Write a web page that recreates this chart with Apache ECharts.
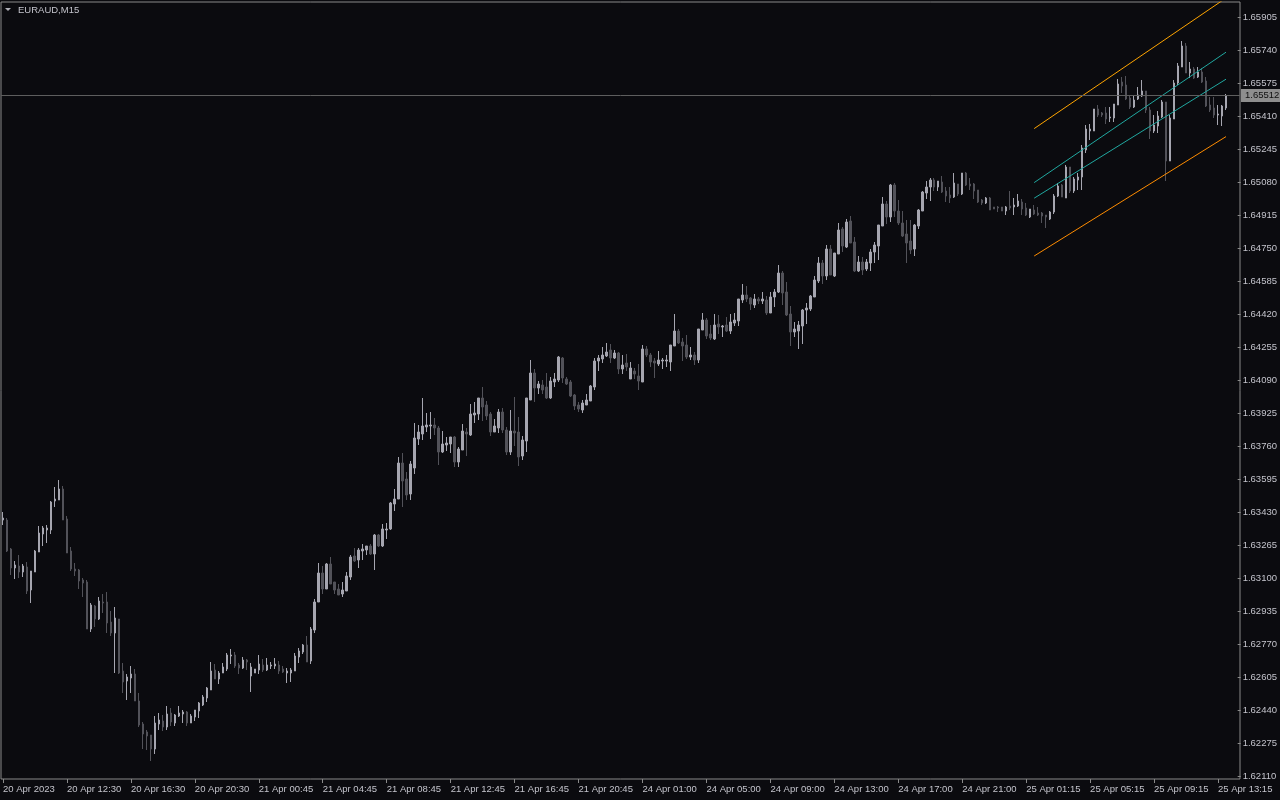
<!DOCTYPE html>
<html><head><meta charset="utf-8">
<script src="https://cdn.jsdelivr.net/npm/echarts@6/dist/echarts.min.js"></script>
<style>html,body{margin:0;padding:0;background:#0b0b0f;}#c{width:1280px;height:800px;}</style>
</head><body><div id="c"></div>
<script>
const symbolName = 'EURAUD,M15';
const open = [
1.63390,1.63390,1.63245,1.63150,1.63160,1.63130,1.63155,1.63040,1.63130,1.63230,
1.63320,1.63340,1.63340,1.63485,1.63490,1.63545,1.63395,1.63235,1.63145,1.63140,
1.63090,1.63080,1.62845,1.62960,1.62895,1.62980,1.62980,1.62880,1.62825,1.62895,
1.62635,1.62585,1.62600,1.62620,1.62485,1.62370,1.62330,1.62315,1.62245,1.62370,
1.62385,1.62355,1.62425,1.62375,1.62410,1.62420,1.62430,1.62375,1.62405,1.62435,
1.62465,1.62500,1.62540,1.62640,1.62595,1.62625,1.62645,1.62710,1.62715,1.62665,
1.62650,1.62690,1.62610,1.62625,1.62640,1.62665,1.62640,1.62660,1.62660,1.62665,
1.62645,1.62625,1.62625,1.62635,1.62705,1.62730,1.62765,1.62685,1.62840,1.62980,
1.63125,1.63045,1.63170,1.63080,1.63045,1.63020,1.63035,1.63105,1.63210,1.63190,
1.63235,1.63240,1.63260,1.63220,1.63315,1.63260,1.63340,1.63345,1.63470,1.63495,
1.63675,1.63595,1.63520,1.63650,1.63795,1.63820,1.63855,1.63860,1.63865,1.63850,
1.63730,1.63765,1.63770,1.63805,1.63680,1.63740,1.63830,1.63815,1.63915,1.63920,
1.64000,1.63965,1.63920,1.63830,1.63850,1.63930,1.63840,1.63730,1.63835,1.63830,
1.63710,1.63785,1.63990,1.64125,1.64050,1.64065,1.64055,1.64000,1.64080,1.64090,
1.64200,1.64095,1.64080,1.64015,1.63965,1.63940,1.63965,1.63985,1.64055,1.64185,
1.64195,1.64210,1.64240,1.64200,1.64225,1.64145,1.64175,1.64095,1.64135,1.64110,
1.64080,1.64245,1.64215,1.64185,1.64170,1.64185,1.64185,1.64180,1.64260,1.64335,
1.64280,1.64265,1.64205,1.64215,1.64190,1.64340,1.64390,1.64320,1.64295,1.64370,
1.64355,1.64365,1.64335,1.64375,1.64385,1.64490,1.64515,1.64500,1.64465,1.64495,
1.64485,1.64490,1.64425,1.64505,1.64530,1.64625,1.64530,1.64420,1.64330,1.64335,
1.64360,1.64440,1.64445,1.64505,1.64585,1.64675,1.64610,1.64745,1.64610,1.64720,
1.64845,1.64755,1.64885,1.64780,1.64635,1.64680,1.64645,1.64675,1.64730,1.64760,
1.64860,1.64970,1.64905,1.65065,1.64935,1.64875,1.64820,1.64785,1.64745,1.64860,
1.64935,1.65025,1.65055,1.65090,1.65055,1.65080,1.65035,1.65015,1.65005,1.65070,
1.65020,1.65125,1.65070,1.65070,1.65040,1.64990,1.64975,1.65000,1.64955,1.64955,
1.64955,1.64935,1.64960,1.64955,1.64960,1.64980,1.64950,1.64905,1.64940,1.64925,
1.64925,1.64915,1.64895,1.64930,1.65010,1.65065,1.65000,1.65155,1.65035,1.65090,
1.65105,1.65240,1.65335,1.65335,1.65445,1.65425,1.65425,1.65400,1.65400,1.65465,
1.65580,1.65565,1.65500,1.65455,1.65495,1.65510,1.65535,1.65440,1.65335,1.65360,
1.65405,1.65480,1.65185,1.65395,1.65575,1.65655,1.65760,1.65625,1.65645,1.65605,
1.65630,1.65585,1.65465,1.65450,1.65415,1.65410,1.65450];
const high = [
1.63430,1.63400,1.63250,1.63185,1.63215,1.63170,1.63180,1.63135,1.63240,1.63360,
1.63360,1.63365,1.63485,1.63555,1.63590,1.63560,1.63410,1.63255,1.63175,1.63145,
1.63100,1.63090,1.62975,1.62965,1.63005,1.63020,1.63030,1.62935,1.62955,1.62895,
1.62675,1.62620,1.62660,1.62645,1.62525,1.62380,1.62340,1.62315,1.62410,1.62425,
1.62415,1.62460,1.62450,1.62420,1.62460,1.62440,1.62435,1.62420,1.62440,1.62480,
1.62515,1.62555,1.62680,1.62670,1.62635,1.62675,1.62725,1.62745,1.62730,1.62675,
1.62705,1.62695,1.62675,1.62645,1.62715,1.62695,1.62700,1.62680,1.62700,1.62685,
1.62660,1.62650,1.62650,1.62725,1.62750,1.62770,1.62810,1.62855,1.62995,1.63175,
1.63160,1.63175,1.63205,1.63080,1.63070,1.63080,1.63130,1.63215,1.63250,1.63250,
1.63270,1.63260,1.63270,1.63320,1.63320,1.63370,1.63375,1.63480,1.63545,1.63705,
1.63725,1.63630,1.63685,1.63875,1.63865,1.64000,1.63925,1.63930,1.63900,1.63860,
1.63835,1.63805,1.63805,1.63810,1.63755,1.63870,1.63850,1.63970,1.63980,1.64000,
1.64055,1.63985,1.63930,1.63895,1.63945,1.63950,1.63855,1.63940,1.64005,1.63905,
1.63810,1.64000,1.64190,1.64145,1.64085,1.64090,1.64125,1.64105,1.64125,1.64210,
1.64205,1.64105,1.64090,1.64020,1.63980,1.63990,1.64020,1.64065,1.64200,1.64215,
1.64255,1.64275,1.64270,1.64240,1.64230,1.64215,1.64220,1.64180,1.64150,1.64170,
1.64265,1.64260,1.64225,1.64200,1.64235,1.64200,1.64215,1.64265,1.64420,1.64345,
1.64300,1.64315,1.64255,1.64230,1.64345,1.64425,1.64400,1.64365,1.64420,1.64415,
1.64365,1.64405,1.64420,1.64425,1.64495,1.64570,1.64560,1.64505,1.64520,1.64505,
1.64530,1.64510,1.64530,1.64545,1.64665,1.64635,1.64580,1.64460,1.64380,1.64385,
1.64445,1.64475,1.64515,1.64610,1.64705,1.64690,1.64765,1.64765,1.64725,1.64875,
1.64855,1.64895,1.64910,1.64805,1.64710,1.64705,1.64695,1.64745,1.64780,1.64865,
1.65005,1.64985,1.65070,1.65075,1.64990,1.64935,1.64890,1.64890,1.64870,1.64945,
1.65035,1.65085,1.65100,1.65100,1.65085,1.65110,1.65055,1.65055,1.65125,1.65070,
1.65125,1.65130,1.65100,1.65075,1.65040,1.64995,1.65005,1.65005,1.64955,1.64960,
1.64955,1.64960,1.65035,1.65000,1.65020,1.64995,1.64975,1.64945,1.64965,1.64955,
1.64930,1.64915,1.64935,1.65020,1.65075,1.65070,1.65165,1.65155,1.65105,1.65125,
1.65265,1.65365,1.65370,1.65445,1.65465,1.65430,1.65455,1.65455,1.65470,1.65595,
1.65605,1.65610,1.65515,1.65515,1.65555,1.65590,1.65535,1.65455,1.65415,1.65435,
1.65490,1.65480,1.65415,1.65590,1.65675,1.65785,1.65775,1.65680,1.65655,1.65655,
1.65650,1.65605,1.65505,1.65505,1.65465,1.65465,1.65520];
const low = [
1.63365,1.63230,1.63115,1.63095,1.63100,1.63105,1.63020,1.62975,1.63130,1.63230,
1.63260,1.63275,1.63320,1.63455,1.63490,1.63390,1.63225,1.63135,1.63110,1.63045,
1.63005,1.62845,1.62830,1.62855,1.62890,1.62925,1.62825,1.62810,1.62625,1.62620,
1.62525,1.62490,1.62525,1.62485,1.62355,1.62245,1.62240,1.62185,1.62220,1.62340,
1.62335,1.62340,1.62360,1.62360,1.62405,1.62375,1.62360,1.62375,1.62385,1.62400,
1.62460,1.62480,1.62540,1.62595,1.62570,1.62625,1.62635,1.62670,1.62650,1.62620,
1.62645,1.62640,1.62530,1.62625,1.62620,1.62630,1.62635,1.62645,1.62645,1.62620,
1.62625,1.62575,1.62580,1.62635,1.62675,1.62720,1.62680,1.62670,1.62825,1.62980,
1.63020,1.63045,1.63070,1.63020,1.63015,1.63005,1.63035,1.63090,1.63180,1.63150,
1.63190,1.63215,1.63215,1.63140,1.63255,1.63255,1.63295,1.63340,1.63435,1.63495,
1.63455,1.63490,1.63490,1.63620,1.63765,1.63790,1.63830,1.63795,1.63815,1.63665,
1.63725,1.63735,1.63725,1.63655,1.63655,1.63740,1.63710,1.63810,1.63875,1.63890,
1.63885,1.63890,1.63810,1.63830,1.63825,1.63825,1.63715,1.63715,1.63760,1.63660,
1.63690,1.63730,1.63990,1.63980,1.64020,1.64020,1.63995,1.63995,1.64055,1.64080,
1.64075,1.64065,1.64005,1.63940,1.63930,1.63925,1.63965,1.63985,1.64040,1.64135,
1.64175,1.64205,1.64175,1.64195,1.64120,1.64120,1.64135,1.64095,1.64095,1.64040,
1.64080,1.64205,1.64155,1.64100,1.64160,1.64145,1.64155,1.64135,1.64260,1.64270,
1.64185,1.64195,1.64190,1.64165,1.64175,1.64340,1.64295,1.64290,1.64290,1.64320,
1.64305,1.64330,1.64320,1.64360,1.64360,1.64475,1.64480,1.64440,1.64450,1.64470,
1.64470,1.64415,1.64425,1.64455,1.64525,1.64465,1.64410,1.64260,1.64305,1.64245,
1.64270,1.64370,1.64435,1.64505,1.64575,1.64570,1.64590,1.64615,1.64605,1.64720,
1.64730,1.64750,1.64775,1.64630,1.64630,1.64615,1.64635,1.64635,1.64675,1.64690,
1.64860,1.64870,1.64880,1.64905,1.64865,1.64805,1.64675,1.64720,1.64710,1.64845,
1.64935,1.64995,1.64985,1.65035,1.65035,1.65025,1.64980,1.64975,1.65000,1.65010,
1.65015,1.65060,1.65040,1.64995,1.64975,1.64965,1.64970,1.64940,1.64945,1.64930,
1.64935,1.64915,1.64940,1.64915,1.64955,1.64915,1.64910,1.64900,1.64915,1.64910,
1.64875,1.64850,1.64890,1.64920,1.65005,1.65005,1.65000,1.65025,1.65025,1.65040,
1.65040,1.65225,1.65290,1.65335,1.65405,1.65405,1.65370,1.65380,1.65380,1.65465,
1.65525,1.65490,1.65445,1.65450,1.65490,1.65505,1.65425,1.65295,1.65325,1.65325,
1.65400,1.65085,1.65185,1.65395,1.65565,1.65655,1.65625,1.65600,1.65595,1.65600,
1.65575,1.65455,1.65430,1.65400,1.65365,1.65360,1.65440];
const close = [
1.63400,1.63235,1.63150,1.63165,1.63130,1.63160,1.63035,1.63135,1.63235,1.63325,
1.63350,1.63350,1.63480,1.63495,1.63545,1.63390,1.63225,1.63145,1.63135,1.63085,
1.63075,1.62845,1.62965,1.62895,1.62985,1.62975,1.62875,1.62825,1.62900,1.62625,
1.62580,1.62605,1.62620,1.62485,1.62365,1.62320,1.62310,1.62245,1.62375,1.62390,
1.62355,1.62420,1.62380,1.62415,1.62425,1.62430,1.62375,1.62410,1.62440,1.62475,
1.62505,1.62550,1.62635,1.62595,1.62625,1.62655,1.62715,1.62715,1.62660,1.62650,
1.62690,1.62680,1.62655,1.62645,1.62670,1.62640,1.62665,1.62665,1.62670,1.62635,
1.62630,1.62635,1.62640,1.62710,1.62735,1.62765,1.62680,1.62845,1.62980,1.63125,
1.63045,1.63170,1.63070,1.63040,1.63015,1.63040,1.63110,1.63205,1.63185,1.63240,
1.63245,1.63260,1.63220,1.63315,1.63260,1.63345,1.63345,1.63475,1.63495,1.63675,
1.63585,1.63515,1.63670,1.63800,1.63830,1.63860,1.63865,1.63865,1.63850,1.63730,
1.63770,1.63775,1.63805,1.63680,1.63745,1.63835,1.63820,1.63920,1.63925,1.64000,
1.63955,1.63910,1.63830,1.63860,1.63930,1.63840,1.63730,1.63835,1.63825,1.63705,
1.63790,1.64000,1.64125,1.64050,1.64070,1.64040,1.64000,1.64085,1.64095,1.64205,
1.64100,1.64070,1.64010,1.63960,1.63945,1.63975,1.63990,1.64060,1.64185,1.64200,
1.64215,1.64230,1.64200,1.64225,1.64145,1.64165,1.64155,1.64150,1.64120,1.64085,
1.64245,1.64215,1.64180,1.64175,1.64190,1.64190,1.64190,1.64265,1.64335,1.64275,
1.64260,1.64205,1.64215,1.64190,1.64345,1.64390,1.64310,1.64300,1.64365,1.64355,
1.64360,1.64335,1.64380,1.64390,1.64495,1.64515,1.64495,1.64470,1.64495,1.64485,
1.64495,1.64425,1.64505,1.64530,1.64625,1.64525,1.64415,1.64330,1.64345,1.64365,
1.64440,1.64450,1.64510,1.64590,1.64675,1.64610,1.64745,1.64615,1.64725,1.64840,
1.64760,1.64880,1.64775,1.64635,1.64680,1.64640,1.64680,1.64730,1.64765,1.64865,
1.64970,1.64905,1.65065,1.64935,1.64875,1.64810,1.64775,1.64740,1.64865,1.64940,
1.65030,1.65055,1.65090,1.65055,1.65085,1.65030,1.65010,1.65000,1.65075,1.65020,
1.65125,1.65065,1.65060,1.65035,1.64980,1.64975,1.65000,1.64940,1.64945,1.64950,
1.64935,1.64955,1.64950,1.64965,1.64985,1.64945,1.64915,1.64945,1.64920,1.64915,
1.64910,1.64905,1.64930,1.65010,1.65060,1.65005,1.65155,1.65035,1.65095,1.65105,
1.65250,1.65345,1.65345,1.65445,1.65415,1.65415,1.65395,1.65405,1.65470,1.65570,
1.65560,1.65495,1.65455,1.65490,1.65515,1.65535,1.65440,1.65335,1.65365,1.65410,
1.65480,1.65185,1.65400,1.65575,1.65660,1.65760,1.65625,1.65645,1.65600,1.65630,
1.65580,1.65460,1.65440,1.65415,1.65420,1.65460,1.65512];
const timeLabels = ['20 Apr 2023','20 Apr 12:30','20 Apr 16:30','20 Apr 20:30','21 Apr 00:45','21 Apr 04:45','21 Apr 08:45','21 Apr 12:45','21 Apr 16:45','21 Apr 20:45','24 Apr 01:00','24 Apr 05:00','24 Apr 09:00','24 Apr 13:00','24 Apr 17:00','24 Apr 21:00','25 Apr 01:15','25 Apr 05:15','25 Apr 09:15','25 Apr 13:15'];
const priceLabels = ['1.62110','1.62275','1.62440','1.62605','1.62770','1.62935','1.63100','1.63265','1.63430','1.63595','1.63760','1.63925','1.64090','1.64255','1.64420','1.64585','1.64750','1.64915','1.65080','1.65245','1.65410','1.65575','1.65740','1.65905'];
const channelBars = [258, 306];
const upperOrange = [1.65347, 1.66000];
const upperTeal = [1.65077, 1.65729];
const lowerTeal = [1.64999, 1.65594];
const lowerOrange = [1.64710, 1.65307];

const slotCount = 310;
const categories = Array.from({length: slotCount}, (_, i) => String(i));
const candles = open.map((o, i) => [o, close[i], low[i], high[i]]);
const lastPrice = close[close.length - 1];
const seg = arr => channelBars.map((b, k) => [b, arr[k]]);

const FONT = 'Liberation Sans';
const TXT = '#c4c4cc';
const FRAME = '#8a8a8a';
const chart = echarts.init(document.getElementById('c'), null, {renderer: 'canvas'});
const lineS = (data, color, extra) => Object.assign({type: 'line', xAxisIndex: 0, yAxisIndex: 0, data: data, symbol: 'none', silent: true, clip: true,
  lineStyle: {color: color, width: 1}, z: 3}, extra || {});
chart.setOption({
  animation: false,
  backgroundColor: '#0b0b0f',
  textStyle: {fontFamily: FONT},
  graphic: [
    {type: 'polygon', shape: {points: [[5, 8], [11, 8], [8, 11]]}, style: {fill: '#b0b0b8'}},
    {type: 'text', left: 18, top: 5, style: {text: symbolName, fill: TXT, font: '9.5px "Liberation Sans"'}}
  ],
  grid: [
    {left: 1, right: 40, top: 2, bottom: 21, show: true, borderColor: FRAME, borderWidth: 1, backgroundColor: 'transparent'},
    {left: 1, right: 40, top: 17, bottom: 24, show: false}
  ],
  xAxis: [
    {type: 'category', gridIndex: 0, data: categories, boundaryGap: true,
      axisLine: {show: false},
      axisTick: {show: true, interval: 15, alignWithLabel: true, length: 4, lineStyle: {color: FRAME}},
      axisLabel: {interval: 15, color: TXT, fontSize: 9.5, align: 'left', margin: 5, fontFamily: FONT,
        formatter: (v, idx) => timeLabels[Math.round(idx / 16)] || ''},
      splitLine: {show: false}},
    {type: 'value', gridIndex: 1, show: false, min: 10, max: 20}
  ],
  yAxis: [
    {type: 'value', gridIndex: 0, min: 1.62095, max: 1.65980, show: false, scale: true},
    {type: 'value', gridIndex: 1, min: 0, max: 23, interval: 1, position: 'right',
      axisLine: {show: false, onZero: false},
      axisTick: {show: true, length: 3, lineStyle: {color: FRAME}},
      axisLabel: {color: TXT, fontSize: 9.5, margin: 5, fontFamily: FONT, formatter: v => priceLabels[Math.round(v)] || ''},
      splitLine: {show: false}}
  ],
  series: [
    {type: 'candlestick', xAxisIndex: 0, yAxisIndex: 0, data: candles, barWidth: 2, silent: true,
      itemStyle: {color: '#a6a6b0', color0: '#525259', borderColor: '#a6a6b0', borderColor0: '#525259', borderWidth: 1}, z: 2},
    lineS(seg(upperOrange), '#ffa500'),
    lineS(seg(upperTeal), '#20a8a0'),
    lineS(seg(lowerTeal), '#20a8a0'),
    lineS(seg(lowerOrange), '#ff8c00', {
      markLine: {silent: true, symbol: ['none', 'none'], animation: false, precision: 5,
        lineStyle: {color: '#5e5e5e', width: 1, type: 'solid'},
        label: {show: true, position: 'end', distance: 1, formatter: lastPrice.toFixed(5),
          backgroundColor: '#8e8e8e', color: '#101010', fontSize: 9.5, fontFamily: FONT, padding: [2, 4, 1, 4]},
        data: [{yAxis: lastPrice}]}})
  ]
});
</script></body></html>
